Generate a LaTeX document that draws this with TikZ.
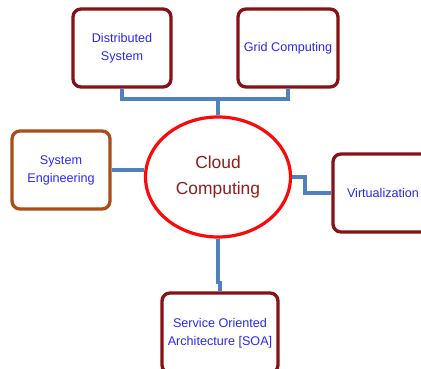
\documentclass[tikz,border=0pt]{standalone}
\usepackage{fontspec}
\setmainfont{Liberation Sans}
\usepackage{tikz}
\usetikzlibrary{shapes.geometric,positioning,calc}
\definecolor{boxRed}{RGB}{135,18,22}
\definecolor{boxBrown}{RGB}{170,78,25}
\definecolor{topicBlue}{RGB}{40,40,245}
\definecolor{cloudRed}{RGB}{250,10,10}
\definecolor{cloudText}{RGB}{140,30,30}
\definecolor{linkBlue}{RGB}{79,129,189}

\begin{document}
\begin{tikzpicture}[x=1pt,y=-1pt,
  box/.style={rectangle,draw=boxRed,line width=3.3pt,rounded corners=8pt,fill=white,
              minimum width=98pt,minimum height=78pt,align=center,text=topicBlue,
              font=\fontsize{12.6}{18}\selectfont},
  cloud/.style={ellipse,draw=cloudRed,line width=3.2pt,fill=white,
                minimum width=145pt,minimum height=120pt,align=center,text=cloudText,
                font=\fontsize{17.4}{26}\selectfont},
  link/.style={draw=linkBlue,line width=3.4pt}
]
  \clip (0,0) rectangle (421,369);
  \fill[white] (0,0) rectangle (421,369);

  % connectors first
  \coordinate (bus) at (218,99);
  \node[cloud](cc)   at (218,177) {Cloud\\Computing};
  \node[box](dist)   at (122,48)  {Distributed\\System};
  \node[box,minimum width=100pt](grid) at (288,48) {Grid Computing};
  \node[box,draw=boxBrown](syse) at (61,170) {System\\Engineering};
  \node[box,minimum width=100pt,text width=90pt](virt) at (383,193) {Virtualization};
  \node[box,minimum width=116pt,minimum height=80pt](soa) at (220,333)
       {Service Oriented\\Architecture [SOA]};

  \draw[link](dist.south)|-(bus)-|(grid.south);
  \draw[link](bus)--(cc.north);
  \draw[link](syse.east)--(cc.west|-syse.east);
  \draw[link](cc.east)--++(13,0)|-(virt.west);
  \draw[link](cc.south)--++(0,44)-|(soa.north);
\end{tikzpicture}
\end{document}
